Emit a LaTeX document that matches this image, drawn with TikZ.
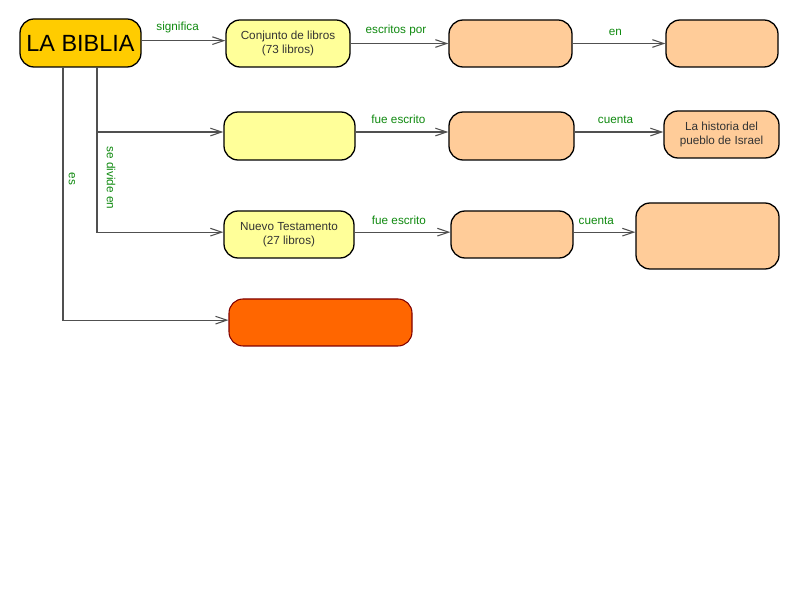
\documentclass[tikz,border=0pt]{standalone}
\usepackage{fontspec}
\setmainfont{Liberation Sans}
\usetikzlibrary{arrows.meta}
\definecolor{oro}{HTML}{FFCC00}
\definecolor{amarillo}{HTML}{FFFF99}
\definecolor{durazno}{HTML}{FFCC99}
\definecolor{naranja}{HTML}{FF6600}
\definecolor{borde}{HTML}{800000}
\definecolor{verde}{HTML}{108A10}
\definecolor{linea}{HTML}{505050}
\begin{document}
\begin{tikzpicture}[x=0.03cm, y=-0.03cm,
    concepto/.style={draw=black, line width=1.1pt, rounded corners=12pt, align=center, inner sep=2pt,
      text=black!80, font=\fontsize{10}{12}\selectfont},
    enlace/.style={draw=linea, line width=0.9pt, -{Straight Barb[length=3.4mm,width=2.3mm]}},
    etiqueta/.style={text=verde, font=\fontsize{10}{12}\selectfont}]
  \useasboundingbox[fill=white] (0,0) rectangle (800,600);

  \node [concepto, fill=oro, minimum width=121*0.03cm, minimum height=48*0.03cm, font=\fontsize{20}{24}\selectfont, text=black] (biblia) at (80.5,43) {LA BIBLIA}; % main node

  \node [concepto, fill=amarillo, minimum width=124*0.03cm, minimum height=47*0.03cm] (conjunto) at (288,43.5) {Conjunto de libros\\(73 libros)};
  \node [concepto, fill=durazno, minimum width=123*0.03cm, minimum height=47*0.03cm] (autores) at (510.5,43.5) {};
  \node [concepto, fill=durazno, minimum width=112*0.03cm, minimum height=47*0.03cm] (lugar) at (722,43.5) {};

  \node [concepto, fill=amarillo, minimum width=131*0.03cm, minimum height=48*0.03cm] (antiguo) at (289.5,136) {};
  \node [concepto, fill=durazno, minimum width=125*0.03cm, minimum height=48*0.03cm] (escritoA) at (511.5,136) {};
  \node [concepto, fill=durazno, minimum width=115*0.03cm, minimum height=47*0.03cm] (historia) at (721.5,134.5) {La historia del\\pueblo de Israel};

  \node [concepto, fill=amarillo, minimum width=130*0.03cm, minimum height=47*0.03cm] (nuevo) at (289,234.5) {Nuevo Testamento\\(27 libros)};
  \node [concepto, fill=durazno, minimum width=122*0.03cm, minimum height=47*0.03cm] (escritoN) at (512,234.5) {};
  \node [concepto, fill=durazno, minimum width=143*0.03cm, minimum height=66*0.03cm] (cuentaN) at (707.5,236) {};

  \node [concepto, draw=borde, fill=naranja, line width=0.9pt, minimum width=183*0.03cm, minimum height=47*0.03cm] (libro) at (320.5,322.5) {};

  \coordinate (divide) at (97,67);
  \coordinate (es) at (63,67);

  \draw [enlace] ([yshift=2pt]biblia.east) -- ([yshift=2pt]biblia.east -| conjunto.west) node [etiqueta, midway, above=3pt, xshift=-5pt] {significa};
  \draw [enlace] (conjunto) -- (autores) node [etiqueta, midway, above=3pt, xshift=-3pt] {escritos por};
  \draw [enlace] (autores) -- (lugar) node [etiqueta, midway, above=3pt, xshift=-3pt] {en};

  \draw [enlace] (divide) |- ([yshift=3.4pt]antiguo.west);
  \draw [enlace] (divide) |- ([yshift=2pt]nuevo.west);
  \node [etiqueta, rotate=-90] (lblDivide) at (111,178) {se divide en};

  \draw [enlace] (es) |- ([yshift=2pt]libro.west);
  \node [etiqueta, rotate=-90] (lblEs) at (72,179) {es};

  \draw [enlace] ([yshift=3.4pt]antiguo.east) -- ([yshift=3.4pt]antiguo.east -| escritoA.west) node [etiqueta, midway, above=3pt, xshift=-3pt] {fue escrito};
  \draw [enlace] ([yshift=3.4pt]escritoA.east) -- ([yshift=3.4pt]escritoA.east -| historia.west) node [etiqueta, midway, above=3pt, xshift=-3pt] {cuenta};

  \draw [enlace] ([yshift=2pt]nuevo.east) -- ([yshift=2pt]nuevo.east -| escritoN.west) node [etiqueta, midway, above=3pt, xshift=-3pt] {fue escrito};
  \draw [enlace] ([yshift=2pt]escritoN.east) -- ([yshift=2pt]escritoN.east -| cuentaN.west) node [etiqueta, midway, above=3pt, xshift=-7pt] {cuenta};
\end{tikzpicture}
\end{document}
